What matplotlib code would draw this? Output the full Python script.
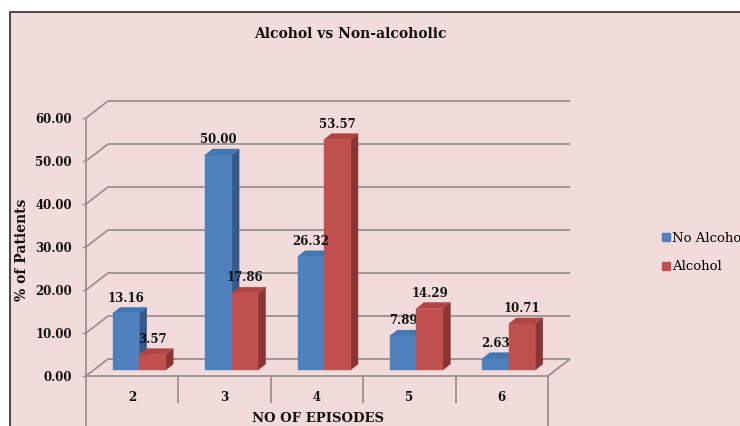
import matplotlib
matplotlib.use('Agg')
import matplotlib.pyplot as plt
from matplotlib.patches import Polygon, Rectangle
from matplotlib.lines import Line2D

# ---- data ----
categories = ['2', '3', '4', '5', '6']
no_alcohol = [13.16, 50.00, 26.32, 7.89, 2.63]
alcohol = [3.57, 17.86, 53.57, 14.29, 10.71]
yticks = [0, 10, 20, 30, 40, 50, 60]
series_names = ['No Alcohol', 'Alcohol']
title = 'Alcohol vs Non-alcoholic'
xlabel = 'NO OF EPISODES'
ylabel = '% of Patients'

# ---- style ----
W, H = 740, 426
BG = '#F2DCDB'
GRID = '#9C9090'
SERIF = 'DejaVu Serif'
blue = dict(front='#4F81BD', side='#34598A', top='#4476B2')
red = dict(front='#C0504D', side='#8A3533', top='#B04441')

fig = plt.figure(figsize=(W / 100, H / 100), dpi=100, facecolor='white')
fig.add_artist(Rectangle((10 / W, -0.2), 1.2, 1.2 - 12 / H, transform=fig.transFigure,
                         facecolor=BG, edgecolor='#3A3A3A', lw=1.3, zorder=0))

ax = fig.add_axes([86 / W, 50 / H, 462 / W, 258 / H])
n = len(categories)
ax.set_xlim(-0.5, n - 0.5)
ax.set_ylim(0, 60)
ax.patch.set_visible(False)
for s in ax.spines.values():
    s.set_visible(False)

# pixel -> data unit conversion for the oblique depth effect
pxx = 462 / n            # pixels per category
pxy = 258 / 60.0         # pixels per value unit
DXW, DYW = 22 / pxx, 17 / pxy    # wall depth
OFX, OFY = 7 / pxx, 6 / pxy      # bar placement depth
BDX, BDY = 7.5 / pxx, 6 / pxy    # bar depth
BW = 26.5 / pxx                  # bar width

lkw = dict(color=GRID, lw=1.3, clip_on=False, zorder=1, solid_capstyle='butt')
# back wall gridlines + left wall diagonals
for t in yticks:
    ax.plot([-0.5 + DXW, n - 0.5 + DXW], [t + DYW, t + DYW], **lkw)
    ax.plot([-0.5, -0.5 + DXW], [t, t + DYW], **lkw)
# floor front edge and right diagonal
ax.plot([-0.5, n - 0.5], [0, 0], **lkw)
ax.plot([n - 0.5, n - 0.5 + DXW], [0, DYW], **lkw)
# front axis line
ax.plot([-0.5, -0.5], [0, 60], **lkw)
# category dividers
for i in range(n + 1):
    x = -0.5 + i
    ybot = -60 if i in (0, n) else -27 / pxy
    ax.plot([x, x], [0, ybot], **lkw)


def bar3d(x0, v, col, z):
    xl = x0 + OFX
    xr = xl + BW
    yb = OFY
    yt = v + OFY
    ax.add_patch(Polygon([(xr, yb), (xr + BDX, yb + BDY), (xr + BDX, yt + BDY), (xr, yt)],
                         closed=True, facecolor=col['side'], edgecolor=col['side'], lw=0.3,
                         clip_on=False, zorder=z))
    ax.add_patch(Polygon([(xl, yt), (xr, yt), (xr + BDX, yt + BDY), (xl + BDX, yt + BDY)],
                         closed=True, facecolor=col['top'], edgecolor=col['top'], lw=0.3,
                         clip_on=False, zorder=z))
    ax.add_patch(Rectangle((xl, yb), BW, v, facecolor=col['front'], edgecolor=col['front'],
                           lw=0.3, clip_on=False, zorder=z))
    ax.annotate(f'{v:.2f}', xy=(xl + BW / 2, yt), xytext=(0, 11), textcoords='offset points',
                ha='center', va='center', fontsize=8.5, fontweight='bold', family=SERIF,
                color='#111111', zorder=10, annotation_clip=False)


for i in range(n):
    bar3d(i - BW, no_alcohol[i], blue, 3 + 2 * i)
    bar3d(i, alcohol[i], red, 4 + 2 * i)

# ticks
ax.set_yticks(yticks, labels=[f'{t:.2f}' for t in yticks])
ax.tick_params(axis='y', length=3, width=1.0, color=GRID, pad=7, labelsize=8.5)
ax.set_xticks(range(n), labels=categories)
ax.tick_params(axis='x', length=0, pad=11, labelsize=8.5)
for lab in ax.get_xticklabels() + ax.get_yticklabels():
    lab.set_family(SERIF)
    lab.set_fontweight('bold')
    lab.set_color('#111111')

fig.text(350 / W, 1 - 34 / H, title, ha='center', va='center', fontsize=10,
         fontweight='bold', family=SERIF, color='#111111')
fig.text(22 / W, 1 - 250 / H, ylabel, rotation=90, ha='center', va='center', fontsize=10,
         fontweight='bold', family=SERIF, color='#111111')
fig.text(318 / W, 1 - 419 / H, xlabel, ha='center', va='center', fontsize=9.5,
         fontweight='bold', family=SERIF, color='#111111')

handles = [Line2D([], [], marker='s', ls='', color=blue['front'], markersize=6),
           Line2D([], [], marker='s', ls='', color=red['front'], markersize=6)]
fig.legend(handles, series_names, loc='center left', bbox_to_anchor=(646 / W, 1 - 252.5 / H),
           frameon=False, handletextpad=-0.1, handlelength=1.2, labelspacing=1.2,
           prop=dict(family=SERIF, size=9.5))

fig.savefig('out.png', dpi=100, facecolor=fig.get_facecolor())
